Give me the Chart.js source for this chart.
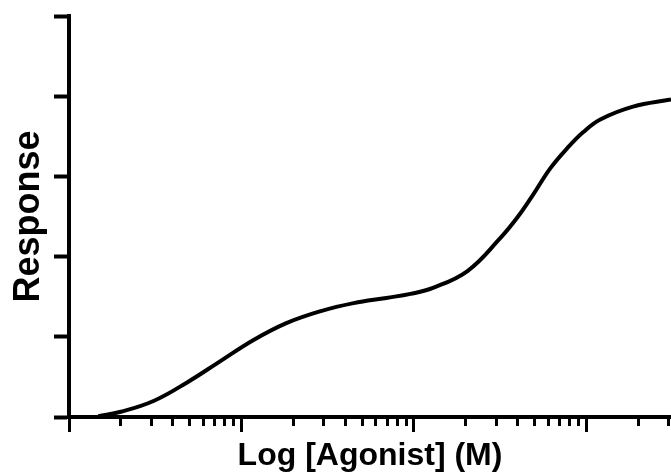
<!DOCTYPE html>
<html>
<head>
<meta charset="utf-8">
<script src="https://cdn.jsdelivr.net/npm/chart.js@4"></script>
<style>
  html, body { margin: 0; padding: 0; background: #fff; }
  canvas { display: block; }
</style>
</head>
<body>
<canvas id="chartCanvas" width="671" height="473"></canvas>
<script>
"use strict";

// log10 of agonist concentration (M)
const logAgonist = [-8.83, -8.70, -8.51, -8.32, -8.12, -7.93, -7.74, -7.54, -7.35, -7.16,
    -7.02, -6.89, -6.69, -6.50, -6.40, -6.31, -6.21, -6.11, -6.02, -5.92, -5.73, -5.51];
const response = [0.2, 1.3, 4.0, 8.5, 14.0, 19.2, 23.4, 26.4, 28.4, 29.7,
    30.7, 32.2, 36.4, 44.6, 49.8, 55.4, 62.0, 67.1, 71.0, 74.2, 77.4, 79.2];

const decades = [-9, -8, -7, -6];       // major ticks (log units)
const xRange = [-9, -5.51];             // visible window (log units)
const yTicks = [0, 20, 40, 60, 80, 100];

const points = logAgonist.map((lx, i) => ({ x: Math.pow(10, lx), y: response[i] }));

function isMajor(v) {
    const l = Math.log10(v);
    return Math.abs(l - Math.round(l)) < 1e-6;
}

const ctx = document.getElementById('chartCanvas');

new Chart(ctx, {
    type: 'line',
    data: {
        datasets: [{
            data: points,
            borderColor: '#000',
            borderWidth: 4,
            pointRadius: 0,
            fill: false,
            tension: 0.4
        }]
    },
    options: {
        responsive: false,
        animation: false,
        layout: { padding: { top: 16, right: 0, left: 0, bottom: 0 } },
        plugins: { legend: { display: false }, tooltip: { enabled: false } },
        scales: {
            x: {
                type: 'logarithmic',
                min: Math.pow(10, xRange[0]),
                max: Math.pow(10, xRange[1]),
                afterBuildTicks: (scale) => {
                    const ticks = [];
                    decades.forEach(d => {
                        for (let k = 1; k <= 9; k++) {
                            const v = k * Math.pow(10, d);
                            if (v <= scale.max * 0.999) ticks.push({ value: v, major: k === 1 });
                        }
                    });
                    scale.ticks = ticks;
                },
                afterFit: (scale) => { scale.height = 56; },
                ticks: { display: false },
                grid: {
                    drawOnChartArea: false,
                    drawTicks: true,
                    tickLength: 15,
                    tickWidth: 3,
                    tickColor: '#000',
                    tickBorderDash: (c) => (c.tick && isMajor(c.tick.value)) ? [] : [7, 100]
                },
                border: { display: true, color: '#000', width: 4 },
                title: {
                    display: true,
                    text: 'Log [Agonist] (M)',
                    color: '#000',
                    font: { family: '"Liberation Sans", Arial, sans-serif', size: 32, weight: 'bold', lineHeight: 1 },
                    padding: { top: 0, bottom: 1 }
                }
            },
            y: {
                min: 0,
                max: 100,
                afterBuildTicks: (scale) => {
                    scale.ticks = yTicks.map(v => ({ value: v }));
                },
                afterFit: (scale) => { scale.width = 69; },
                ticks: { display: false },
                grid: {
                    drawOnChartArea: false,
                    drawTicks: true,
                    tickLength: 15,
                    tickWidth: 4,
                    tickColor: '#000'
                },
                border: { display: true, color: '#000', width: 4 },
                title: {
                    display: true,
                    text: 'Response',
                    color: '#000',
                    font: { family: '"Liberation Sans", Arial, sans-serif', size: 36, weight: 'bold', lineHeight: 1 },
                    padding: { top: 11, bottom: 0 }
                }
            }
        }
    }
});
</script>
</body>
</html>
